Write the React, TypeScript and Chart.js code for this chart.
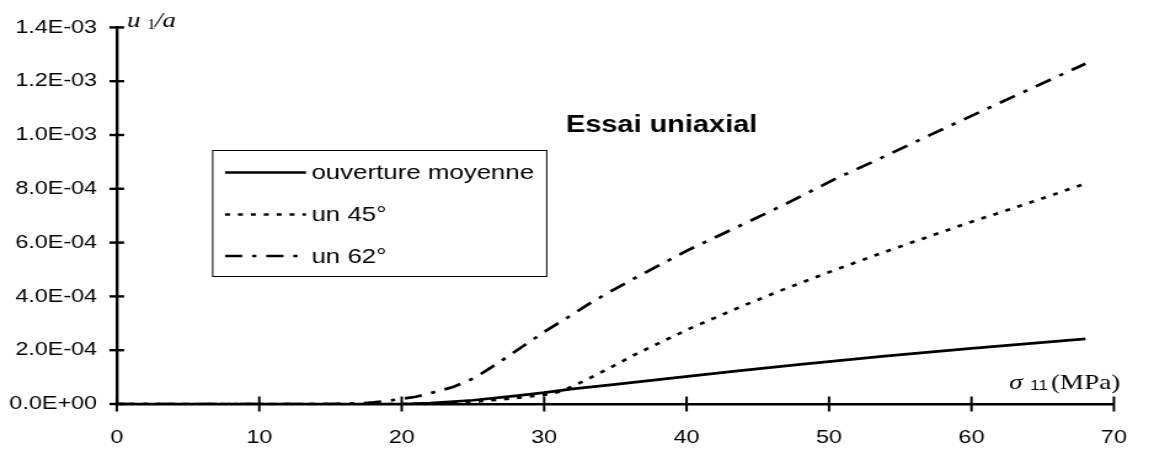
import React, { useEffect, useRef } from "react";
import { Chart, registerables } from "chart.js";

Chart.register(...registerables);

// ---------------- DATA ----------------
const chartTitle = "Essai uniaxial";
const seriesNames = ["ouverture moyenne", "un 45°", "un 62°"];

const xMoyenne = [0, 10, 20, 22, 25, 28, 30, 32, 35, 38.8, 43.6, 48, 53.9, 60, 68];
const yMoyenne = [0, 0, 0, 0.03e-4, 0.14e-4, 0.3e-4, 0.42e-4, 0.56e-4, 0.73e-4, 0.95e-4, 1.23e-4, 1.47e-4, 1.78e-4, 2.07e-4, 2.42e-4];

const x45 = [0, 10, 20, 22, 25, 28, 30, 31, 31.9, 33.3, 34.2, 36.5, 38.6, 40.2, 44, 47, 50.4, 53.2, 56, 59.6, 64, 68];
const y45 = [0, 0, 0, 0.01e-4, 0.08e-4, 0.22e-4, 0.34e-4, 0.45e-4, 0.63e-4, 0.99e-4, 1.23e-4, 1.87e-4, 2.4e-4, 2.8e-4, 3.66e-4, 4.3e-4, 4.98e-4, 5.52e-4, 6.04e-4, 6.7e-4, 7.47e-4, 8.19e-4];

const x62 = [0, 10, 15, 17, 18, 19, 20, 21, 22, 23.6, 25.2, 27.3, 30, 31.9, 33.2, 34.7, 36.5, 38.8, 40.1, 44, 47, 50.4, 53.4, 57.3, 62, 68];
const y62 = [0, 0, 0, 0.02e-4, 0.06e-4, 0.12e-4, 0.19e-4, 0.27e-4, 0.4e-4, 0.63e-4, 0.99e-4, 1.71e-4, 2.68e-4, 3.3e-4, 3.74e-4, 4.2e-4, 4.72e-4, 5.36e-4, 5.72e-4, 6.69e-4, 7.45e-4, 8.36e-4, 9.08e-4, 10.05e-4, 11.2e-4, 12.65e-4];

const xTickLabels = ["0", "10", "20", "30", "40", "50", "60", "70"];
const yTickLabels = ["0.0E+00", "2.0E-04", "4.0E-04", "6.0E-04", "8.0E-04", "1.0E-03", "1.2E-03", "1.4E-03"];

// ---------------- LAYOUT (internal canvas units) ----------------
const CW = 938;
const CH = 452;
const S = 1154 / CW; // horizontal stretch of the canvas

const SANS = '"Liberation Sans", Arial, sans-serif';
const SERIF = '"Liberation Serif", "Times New Roman", serif';

const DOT: number[] = [4, 6.5];
const DASHDOT: number[] = [14, 8, 3.5, 8];

const toPts = (xs: number[], ys: number[]) => xs.map((x, i) => ({ x, y: ys[i] }));

const decor = {
  id: "decor",
  afterDatasetsDraw(chart: any) {
    const ctx: CanvasRenderingContext2D = chart.ctx;
    const xs = chart.scales.x;
    const ys = chart.scales.y;
    const left = chart.chartArea.left;
    const bottom = chart.chartArea.bottom;
    ctx.save();
    ctx.strokeStyle = "#000";
    ctx.fillStyle = "#000";
    ctx.setLineDash([]);
    // crossing tick marks
    ctx.lineWidth = 2.4;
    ys.ticks.forEach((t: any) => {
      const py = ys.getPixelForValue(t.value);
      ctx.beginPath();
      ctx.moveTo(left - 6, py);
      ctx.lineTo(left + 6, py);
      ctx.stroke();
    });
    ctx.lineWidth = 2;
    xs.ticks.forEach((t: any) => {
      const px = xs.getPixelForValue(t.value);
      ctx.beginPath();
      ctx.moveTo(px, bottom - 7.5);
      ctx.lineTo(px, bottom + 7.5);
      ctx.stroke();
    });

    // title
    ctx.font = `bold 23.5px ${SANS}`;
    ctx.textAlign = "left";
    ctx.textBaseline = "alphabetic";
    ctx.fillText(chartTitle, 566 / S, 131.5);

    // y axis label u1/a
    ctx.font = `italic 22px ${SERIF}`;
    ctx.fillText("u", 127 / S, 27);
    ctx.font = `14px ${SERIF}`;
    ctx.fillText("1", 147 / S, 29);
    ctx.font = `italic 22px ${SERIF}`;
    ctx.fillText("/a", 155 / S, 27);

    // x axis label sigma11 (MPa)
    ctx.font = `italic 22px ${SERIF}`;
    ctx.fillText("σ", 1009 / S, 389);
    ctx.font = `14px ${SANS}`;
    ctx.fillText("11", 1030 / S, 390);
    ctx.font = `22px ${SERIF}`;
    ctx.fillText("(MPa)", 1051 / S, 389);

    // legend
    const lx0 = 212.7 / S;
    const lx1 = 546.7 / S;
    const ly0 = 150.5;
    const ly1 = 276.5;
    ctx.lineWidth = 1;
    ctx.strokeStyle = "#000";
    ctx.strokeRect(lx0, ly0, lx1 - lx0, ly1 - ly0);
    const rowY = [172.5, 214.5, 256];
    const dashes = [[], DOT, DASHDOT];
    const sx0 = 225 / S;
    const sx1 = 306 / S;
    ctx.font = `21px ${SANS}`;
    ctx.textBaseline = "middle";
    seriesNames.forEach((name, i) => {
      ctx.lineWidth = 2.7;
      ctx.setLineDash(dashes[i]);
      ctx.beginPath();
      ctx.moveTo(sx0, rowY[i]);
      ctx.lineTo(sx1, rowY[i]);
      ctx.stroke();
      ctx.setLineDash([]);
      ctx.fillText(name, 311.5 / S, rowY[i] + 1);
    });
    ctx.restore();
  },
};

export default function App() {
  const ref = useRef<HTMLCanvasElement | null>(null);

  useEffect(() => {
    document.body.style.margin = "0";
    const canvas = ref.current;
    if (!canvas) return;
    const common = {
      borderColor: "#000",
      backgroundColor: "#000",
      borderWidth: 2.7,
      pointRadius: 0,
      pointHoverRadius: 0,
      tension: 0,
      fill: false,
      showLine: true,
      borderCapStyle: "butt" as const,
    };
    const chart = new Chart(canvas, {
      type: "scatter",
      data: {
        datasets: [
          { ...common, label: seriesNames[0], data: toPts(xMoyenne, yMoyenne) },
          { ...common, label: seriesNames[1], data: toPts(x45, y45), borderDash: DOT },
          { ...common, label: seriesNames[2], data: toPts(x62, y62), borderDash: DASHDOT },
        ],
      },
      options: {
        animation: false,
        responsive: false,
        devicePixelRatio: 1,
        events: [],
        layout: { padding: { top: 17.5, right: CW - 1135 / S, left: 0, bottom: 0 } },
        plugins: {
          legend: { display: false },
          tooltip: { enabled: false },
          title: { display: false },
        },
        scales: {
          x: {
            type: "linear",
            min: 0,
            max: 70,
            grid: { display: false, drawTicks: false },
            border: { display: true, color: "#000", width: 2.6 },
            ticks: {
              stepSize: 10,
              padding: 22,
              color: "#000",
              font: { family: SANS, size: 19 },
              maxRotation: 0,
              callback: (v: any, i: number) => xTickLabels[i] ?? String(v),
            },
            afterFit: (scale: any) => {
              scale.height = CH - 404;
            },
          },
          y: {
            type: "linear",
            min: 0,
            max: 1.4e-3,
            grid: { display: false, drawTicks: false },
            border: { display: true, color: "#000", width: 2.4 },
            ticks: {
              stepSize: 2e-4,
              padding: 16,
              color: "#000",
              font: { family: SANS, size: 19 },
              callback: (v: any, i: number) => yTickLabels[i] ?? String(v),
            },
            afterFit: (scale: any) => {
              scale.width = 116.8 / S;
            },
          },
        },
      },
      plugins: [decor],
    });
    return () => chart.destroy();
  }, []);

  return (
    <div style={{ width: 1154, height: 452 }}>
      <canvas
        ref={ref}
        width={CW}
        height={CH}
        style={{ display: "block", width: "1154px", height: "452px" }}
      />
    </div>
  );
}
